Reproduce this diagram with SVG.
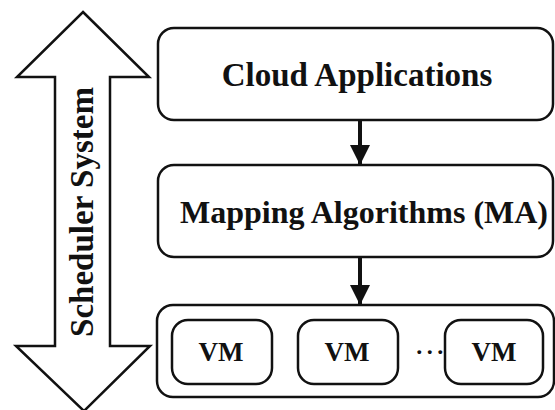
<svg xmlns="http://www.w3.org/2000/svg" width="555" height="410" viewBox="0 0 555 410">
<style>
.box{fill:#fff;stroke:#111;stroke-width:2.5}
.t{font-family:"Liberation Serif","Times New Roman",serif;font-weight:bold;fill:#111;text-anchor:middle}
.vm{font-size:27px}
.conn{stroke:#111;stroke-width:4;fill:none}
</style>
<defs>
<marker id="ah" viewBox="0 0 10 10" refX="10" refY="5" markerWidth="5.5" markerHeight="5" orient="auto" markerUnits="strokeWidth">
<path d="M0,0 L10,5 L0,10 z" fill="#111"/>
</marker>
</defs>
<rect width="555" height="410" fill="#fff"/>
<g id="scheduler">
<path class="box" d="M83,12 L149,77 L110,77 L110,346 L150,346 L84,411 L16,346 L55,346 L55,77 L17,77 Z"/>
<text class="t" font-size="33" textLength="250" lengthAdjust="spacingAndGlyphs" transform="translate(93,212) rotate(-90)" x="0" y="0">Scheduler System</text>
</g>
<g id="cloud">
<rect class="box" x="158" y="28" width="395" height="92" rx="16"/>
<text class="t" font-size="33" x="357" y="86">Cloud Applications</text>
</g>
<g id="mapping">
<rect class="box" x="158" y="165" width="395" height="92" rx="16"/>
<text class="t" font-size="32" x="364" y="223">Mapping Algorithms (MA)</text>
</g>
<g id="vms">
<rect class="box" x="157" y="305" width="397" height="92" rx="16"/>
<g id="vm1"><rect class="box" x="172" y="320" width="100" height="64" rx="16"/><text class="t vm" x="221" y="361">VM</text></g>
<g id="vm2"><rect class="box" x="298" y="320" width="100" height="64" rx="16"/><text class="t vm" x="347" y="361">VM</text></g>
<g id="vm3"><rect class="box" x="445" y="320" width="98" height="64" rx="16"/><text class="t vm" x="494" y="361">VM</text></g>
<text class="t" font-size="24" letter-spacing="4.5" x="432" y="354">...</text>
</g>
<g id="connectors">
<line class="conn" x1="360" y1="120" x2="360" y2="165" marker-end="url(#ah)"/>
<line class="conn" x1="360" y1="257" x2="360" y2="305" marker-end="url(#ah)"/>
</g>
</svg>
